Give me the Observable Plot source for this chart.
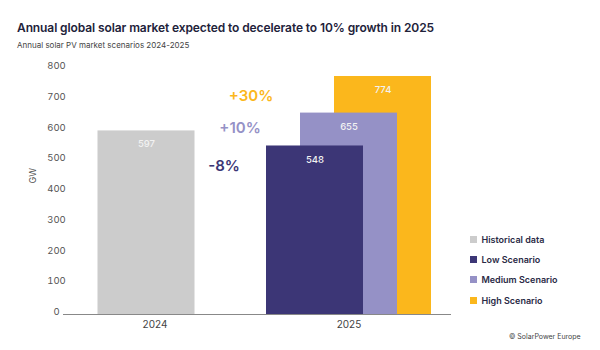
<!DOCTYPE html>
<html>
<head>
<meta charset="utf-8">
<script src="https://cdn.jsdelivr.net/npm/d3@7"></script>
<script src="https://cdn.jsdelivr.net/npm/@observablehq/plot@0.6"></script>
<style>
  html, body { margin: 0; padding: 0; background: #fff; }
  #wrap { position: relative; width: 600px; height: 350px; font-family: Inter, "Open Sans", sans-serif; overflow: hidden; }
  #title { position: absolute; left: 17px; top: 20px; font-size: 12px; font-weight: 600; color: #22223a; letter-spacing: -0.1px; white-space: nowrap; }
  #subtitle { position: absolute; left: 17px; top: 40px; font-size: 8px; color: #444; white-space: nowrap; }
  #chart { position: absolute; left: 0; top: 55px; }
  #legend { position: absolute; left: 470px; top: 229px; font-size: 9px; font-weight: 600; color: #2a2a45; }
  #legend .item { display: flex; align-items: center; height: 20.4px; }
  #legend .sw { width: 7px; height: 7px; margin-right: 4.5px; }
  #credit { position: absolute; left: 509px; top: 332px; font-size: 7px; color: #444; white-space: nowrap; }
</style>
</head>
<body>
<div id="wrap">
  <div id="title">Annual global solar market expected to decelerate to 10% growth in 2025</div>
  <div id="subtitle">Annual solar PV market scenarios 2024-2025</div>
  <div id="chart"></div>
  <div id="legend"></div>
  <div id="credit">© SolarPower Europe</div>
</div>
<script>
// ---- data ----
const years = ["2024", "2025"];
const series = ["Historical data", "Low Scenario", "Medium Scenario", "High Scenario"];
const seriesYear = ["2024", "2025", "2025", "2025"];
const seriesValue = [597, 548, 655, 774];
const colors = ["#cccccc", "#3c3676", "#9591c6", "#fbb71c"];
const growthLabels = ["-8%", "+10%", "+30%"];
const growthSeries = ["Low Scenario", "Medium Scenario", "High Scenario"];
const yTicks = [0, 100, 200, 300, 400, 500, 600, 700, 800];

// ---- styling (offsets within the 2025 group) ----
const barDx = {"Historical data": -8.5, "Low Scenario": -34, "Medium Scenario": 0, "High Scenario": 34};
const growthStyle = {
  "Low Scenario": {dx: -125, dy: 20},
  "Medium Scenario": {dx: -109, dy: 15.5},
  "High Scenario": {dx: -98, dy: 19.5}
};

const rows = series.map((s, i) => ({series: s, year: seriesYear[i], value: seriesValue[i], color: colors[i]}));
// draw order: back to front
const drawOrder = ["Historical data", "High Scenario", "Medium Scenario", "Low Scenario"];

const marks = [];
for (const s of drawOrder) {
  const d = rows.filter(r => r.series === s);
  marks.push(Plot.barY(d, {x: "year", y: "value", fill: "color", dx: barDx[s]}));
  marks.push(Plot.text(d, {x: "year", y: "value", text: r => String(r.value), dx: barDx[s], dy: 13.5,
    fill: "#f2f2f2", fontSize: 9.5, fontWeight: 500}));
}
growthLabels.forEach((lab, i) => {
  const s = growthSeries[i];
  const r = rows.find(q => q.series === s);
  marks.push(Plot.text([r], {x: "year", y: "value", text: () => lab, dx: growthStyle[s].dx, dy: growthStyle[s].dy,
    fill: r.color, fontSize: 15, fontWeight: 600}));
});

const chart = Plot.plot({
  width: 600,
  height: 295,
  marginTop: 13,
  marginBottom: 36,
  marginLeft: 63,
  marginRight: 149,
  style: {fontFamily: "Inter, 'Open Sans', sans-serif", background: "transparent"},
  x: {type: "band", domain: years, range: [105.5, 396.8], paddingInner: 0.5, paddingOuter: 0},
  y: {domain: [0, 800]},
  color: {type: "identity"},
  marks: [
    Plot.axisY({ticks: yTicks, tickSize: 0, tickPadding: 7, textAnchor: "middle", dy: -2.5, fontSize: 9.5, color: "#555", label: null}),
    Plot.text(["GW"], {frameAnchor: "left", dx: -30, dy: -8, rotate: -90, fontSize: 9, fill: "#555"}),
    Plot.axisX({tickSize: 0, tickPadding: 6, fontSize: 10, color: "#444", label: null}),
    ...marks,
    Plot.ruleY([0], {stroke: "#888", strokeWidth: 1.2})
  ]
});
document.getElementById("chart").appendChild(chart);

// ---- legend ----
const legend = document.getElementById("legend");
series.forEach((s, i) => {
  const it = document.createElement("div");
  it.className = "item";
  const sw = document.createElement("span");
  sw.className = "sw";
  sw.style.background = colors[i];
  const tx = document.createElement("span");
  tx.textContent = s;
  it.appendChild(sw); it.appendChild(tx);
  legend.appendChild(it);
});
</script>
</body>
</html>
